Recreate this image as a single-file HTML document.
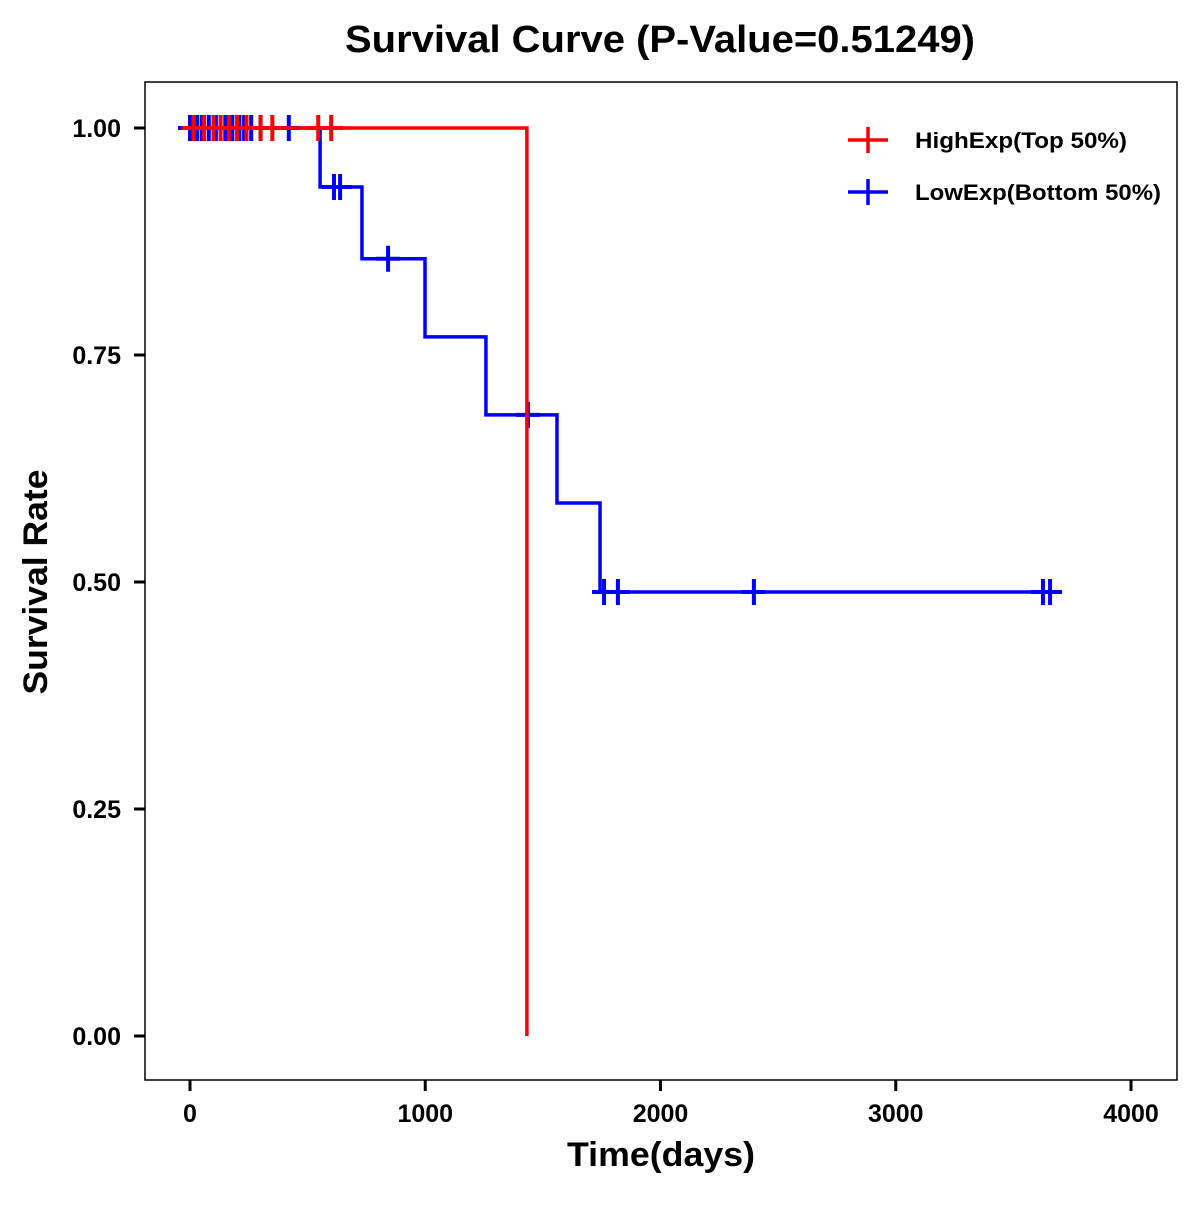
<!DOCTYPE html>
<html><head><meta charset="utf-8"><style>
html,body{margin:0;padding:0;background:#fff}
svg text{font-family:"Liberation Sans",Arial,sans-serif;font-weight:bold}
</style></head><body>
<svg id="chart" width="1200" height="1200" viewBox="0 0 1200 1200" xmlns="http://www.w3.org/2000/svg">
<rect width="1200" height="1200" fill="#fff"/>
<text x="660" y="52" font-size="38" text-anchor="middle" textLength="630" lengthAdjust="spacingAndGlyphs">Survival Curve (P-Value=0.51249)</text>
<rect x="145" y="82" width="1032" height="998" fill="none" stroke="#000" stroke-width="1.5"/>
<g id="axes"></g>
<g id="series"></g>
<text x="661" y="1166" font-size="34" text-anchor="middle" textLength="188" lengthAdjust="spacingAndGlyphs">Time(days)</text>
<text x="47" y="582" font-size="34" text-anchor="middle" textLength="225" lengthAdjust="spacingAndGlyphs" transform="rotate(-90 47 582)">Survival Rate</text>
<g>
<g>
<line x1="848" y1="140" x2="888" y2="140" stroke="#f00" stroke-width="3.5"/><line x1="868" y1="127" x2="868" y2="153" stroke="#f00" stroke-width="3.5"/>
<text x="915" y="148" font-size="22" textLength="212" lengthAdjust="spacingAndGlyphs">HighExp(Top 50%)</text></g>
<g>
<line x1="848" y1="192" x2="888" y2="192" stroke="#00f" stroke-width="3.5"/><line x1="868" y1="179" x2="868" y2="205" stroke="#00f" stroke-width="3.5"/>
<text x="915" y="200" font-size="22" textLength="246" lengthAdjust="spacingAndGlyphs">LowExp(Bottom 50%)</text></g>
</g>
</svg>
<script>
const xTicks=[0,1000,2000,3000,4000];
const yTicks=[0,0.25,0.5,0.75,1];
const yTickLabels=["0.00","0.25","0.50","0.75","1.00"];
const highEventTimes=[1432];
const highEventSurv=[0];
const highCensor=[15,60,100,130,165,200,240,300,350,545,600];
const highEnd=1432;
const lowEventTimes=[553,731,999,1258,1560,1743];
const lowEventSurv=[0.935,0.856,0.770,0.684,0.587,0.489];
const lowCensor=[0,30,50,80,110,150,180,210,230,260,300,420,612,638,842,1437,1760,1819,2397,3626,3656];
const lowEnd=3656;
const X=t=>190+t*0.23525;
const Y=s=>1036-s*908;
const NS="http://www.w3.org/2000/svg";
function mk(tag,attrs,parent){const e=document.createElementNS(NS,tag);for(const k in attrs)e.setAttribute(k,attrs[k]);parent.appendChild(e);return e;}
const axes=document.getElementById('axes');
xTicks.forEach(t=>{
 const l=mk('line',{x1:X(t),x2:X(t),y1:1080,y2:1091,stroke:'#000','stroke-width':3},axes);
 
 
 const tx=mk('text',{x:X(t),y:1122,'font-size':25,'text-anchor':'middle'},axes);tx.textContent=t;
 
 
});
yTicks.forEach((s,i)=>{
 const l=mk('line',{x1:134,x2:145,y1:Y(s),y2:Y(s),stroke:'#000','stroke-width':3},axes);
 
 
 const tx=mk('text',{x:121,y:Y(s)+9,'font-size':25,'text-anchor':'end'},axes);tx.textContent=yTickLabels[i];
 
 
});
function survAt(t,times,surv){let s=1;times.forEach((tt,i)=>{if(t>=tt)s=surv[i];});return s;}
function drawSeries(times,surv,cens,end,color,name){
 const g=mk('g',{},document.getElementById('series'));
 
 
 let d='M'+X(0)+' '+Y(1);
 times.forEach((t,i)=>{d+=' H'+X(t)+' V'+Y(surv[i]);});
 if(end>times[times.length-1])d+=' H'+X(end);
 const p=mk('path',{d:d,fill:'none',stroke:color,'stroke-width':3.5},g);
 
 
 cens.forEach(t=>{const sv=survAt(t,times,surv);
  const c=mk('path',{d:'M'+(X(t)-12)+' '+Y(sv)+' h24 M'+X(t)+' '+(Y(sv)-13)+' v26',stroke:color,'stroke-width':4},g);
  
  
 });
}
drawSeries(lowEventTimes,lowEventSurv,lowCensor,lowEnd,'#00f','low-exp-series');
drawSeries(highEventTimes,highEventSurv,highCensor,highEnd,'#f00','high-exp-series');
</script>
</body></html>
